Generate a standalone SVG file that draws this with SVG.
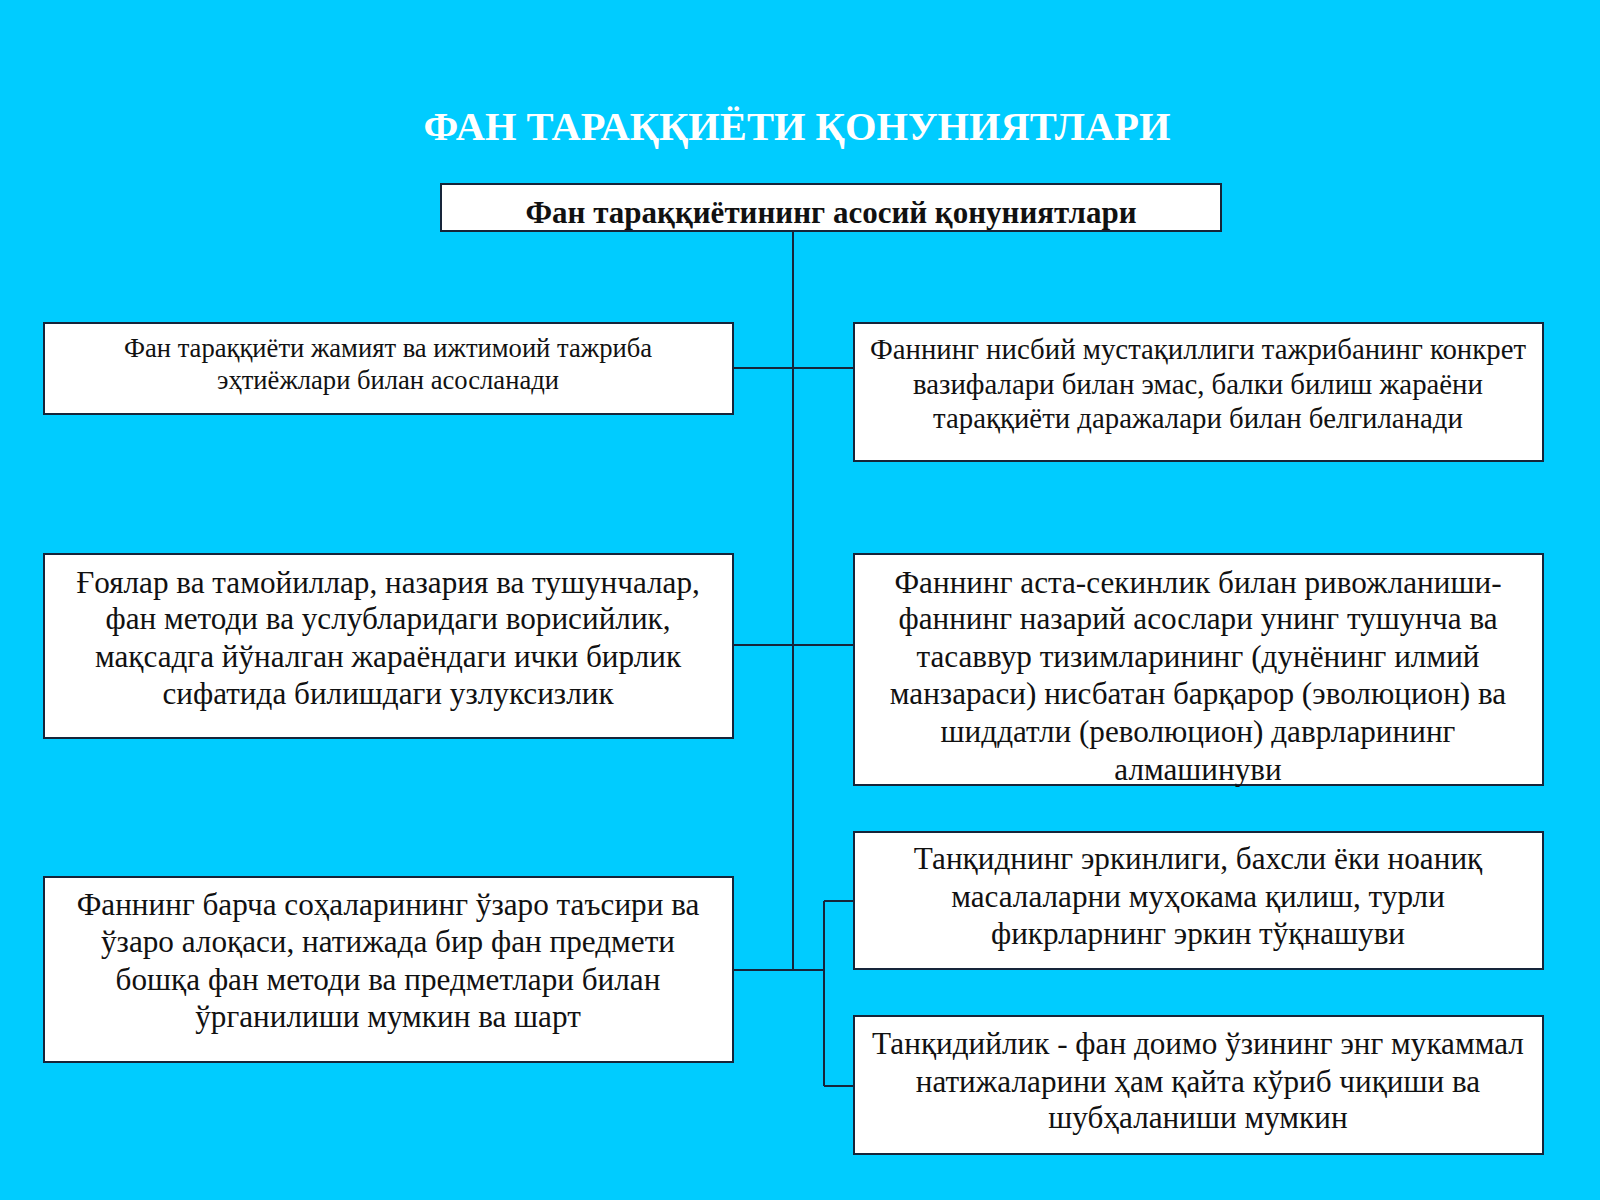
<svg xmlns="http://www.w3.org/2000/svg" width="1600" height="1200" viewBox="0 0 1600 1200">
<style>
.box{fill:#ffffff;stroke:#16253a;stroke-width:2}
.ln{stroke:#16253a;stroke-width:2;fill:none}
.t{font-family:"Liberation Serif","Times New Roman",serif;fill:#111;text-anchor:middle}
.s24{font-size:26.6px}
.s26{font-size:28.8px}
.s28{font-size:31.2px}
</style>
<rect x="0" y="0" width="1600" height="1200" fill="#00CCFF"/>
<text x="797" y="140" class="t" style="font-size:40.5px;font-weight:bold;fill:#ffffff">ФАН ТАРАҚҚИЁТИ ҚОНУНИЯТЛАРИ</text>
<g id="connectors">
<path class="ln" d="M793 231 V970"/>
<path class="ln" d="M733 368 H854"/>
<path class="ln" d="M733 645 H854"/>
<path class="ln" d="M733 970 H824"/>
<path class="ln" d="M824 901 V1086"/>
<path class="ln" d="M824 901 H854"/>
<path class="ln" d="M824 1086 H854"/>
</g>
<g id="header">
<rect class="box" x="441" y="184" width="780" height="47"/>
<text x="831" y="223" class="t" style="font-size:31px;font-weight:bold">Фан тараққиётининг асосий қонуниятлари</text>
</g>
<g id="left1">
<rect class="box" x="44" y="323" width="689" height="91"/>
<text class="t s24" x="388" y="357">Фан тараққиёти жамият ва ижтимоий тажриба</text>
<text class="t s24" x="388" y="389">эҳтиёжлари билан асосланади</text>
</g>
<g id="right1">
<rect class="box" x="854" y="323" width="689" height="138"/>
<text class="t s26" x="1198" y="359">Фаннинг нисбий мустақиллиги тажрибанинг конкрет</text>
<text class="t s26" x="1198" y="394">вазифалари билан эмас, балки билиш жараёни</text>
<text class="t s26" x="1198" y="428">тараққиёти даражалари билан белгиланади</text>
</g>
<g id="left2">
<rect class="box" x="44" y="554" width="689" height="184"/>
<text class="t s28" x="388" y="593">Ғоялар ва тамойиллар, назария ва тушунчалар,</text>
<text class="t s28" x="388" y="629">фан методи ва услубларидаги ворисийлик,</text>
<text class="t s28" x="388" y="667">мақсадга йўналган жараёндаги ички бирлик</text>
<text class="t s28" x="388" y="704">сифатида билишдаги узлуксизлик</text>
</g>
<g id="right2">
<rect class="box" x="854" y="554" width="689" height="231"/>
<text class="t s28" x="1198" y="593">Фаннинг аста-секинлик билан ривожланиши-</text>
<text class="t s28" x="1198" y="629">фаннинг назарий асослари унинг тушунча ва</text>
<text class="t s28" x="1198" y="667">тасаввур тизимларининг (дунёнинг илмий</text>
<text class="t s28" x="1198" y="704">манзараси) нисбатан барқарор (эволюцион) ва</text>
<text class="t s28" x="1198" y="742">шиддатли (революцион) даврларининг</text>
<text class="t s28" x="1198" y="780">алмашинуви</text>
</g>
<g id="left3">
<rect class="box" x="44" y="877" width="689" height="185"/>
<text class="t s28" x="388" y="915">Фаннинг барча соҳаларининг ўзаро таъсири ва</text>
<text class="t s28" x="388" y="952">ўзаро алоқаси, натижада бир фан предмети</text>
<text class="t s28" x="388" y="990">бошқа фан методи ва предметлари билан</text>
<text class="t s28" x="388" y="1027">ўрганилиши мумкин ва шарт</text>
</g>
<g id="right3">
<rect class="box" x="854" y="832" width="689" height="137"/>
<text class="t s28" x="1198" y="869">Танқиднинг эркинлиги, бахсли ёки ноаниқ</text>
<text class="t s28" x="1198" y="907">масалаларни муҳокама қилиш, турли</text>
<text class="t s28" x="1198" y="944">фикрларнинг эркин тўқнашуви</text>
</g>
<g id="right4">
<rect class="box" x="854" y="1016" width="689" height="138"/>
<text class="t s28" x="1198" y="1054">Танқидийлик - фан доимо ўзининг энг мукаммал</text>
<text class="t s28" x="1198" y="1092">натижаларини ҳам қайта кўриб чиқиши ва</text>
<text class="t s28" x="1198" y="1128">шубҳаланиши мумкин</text>
</g>
</svg>
